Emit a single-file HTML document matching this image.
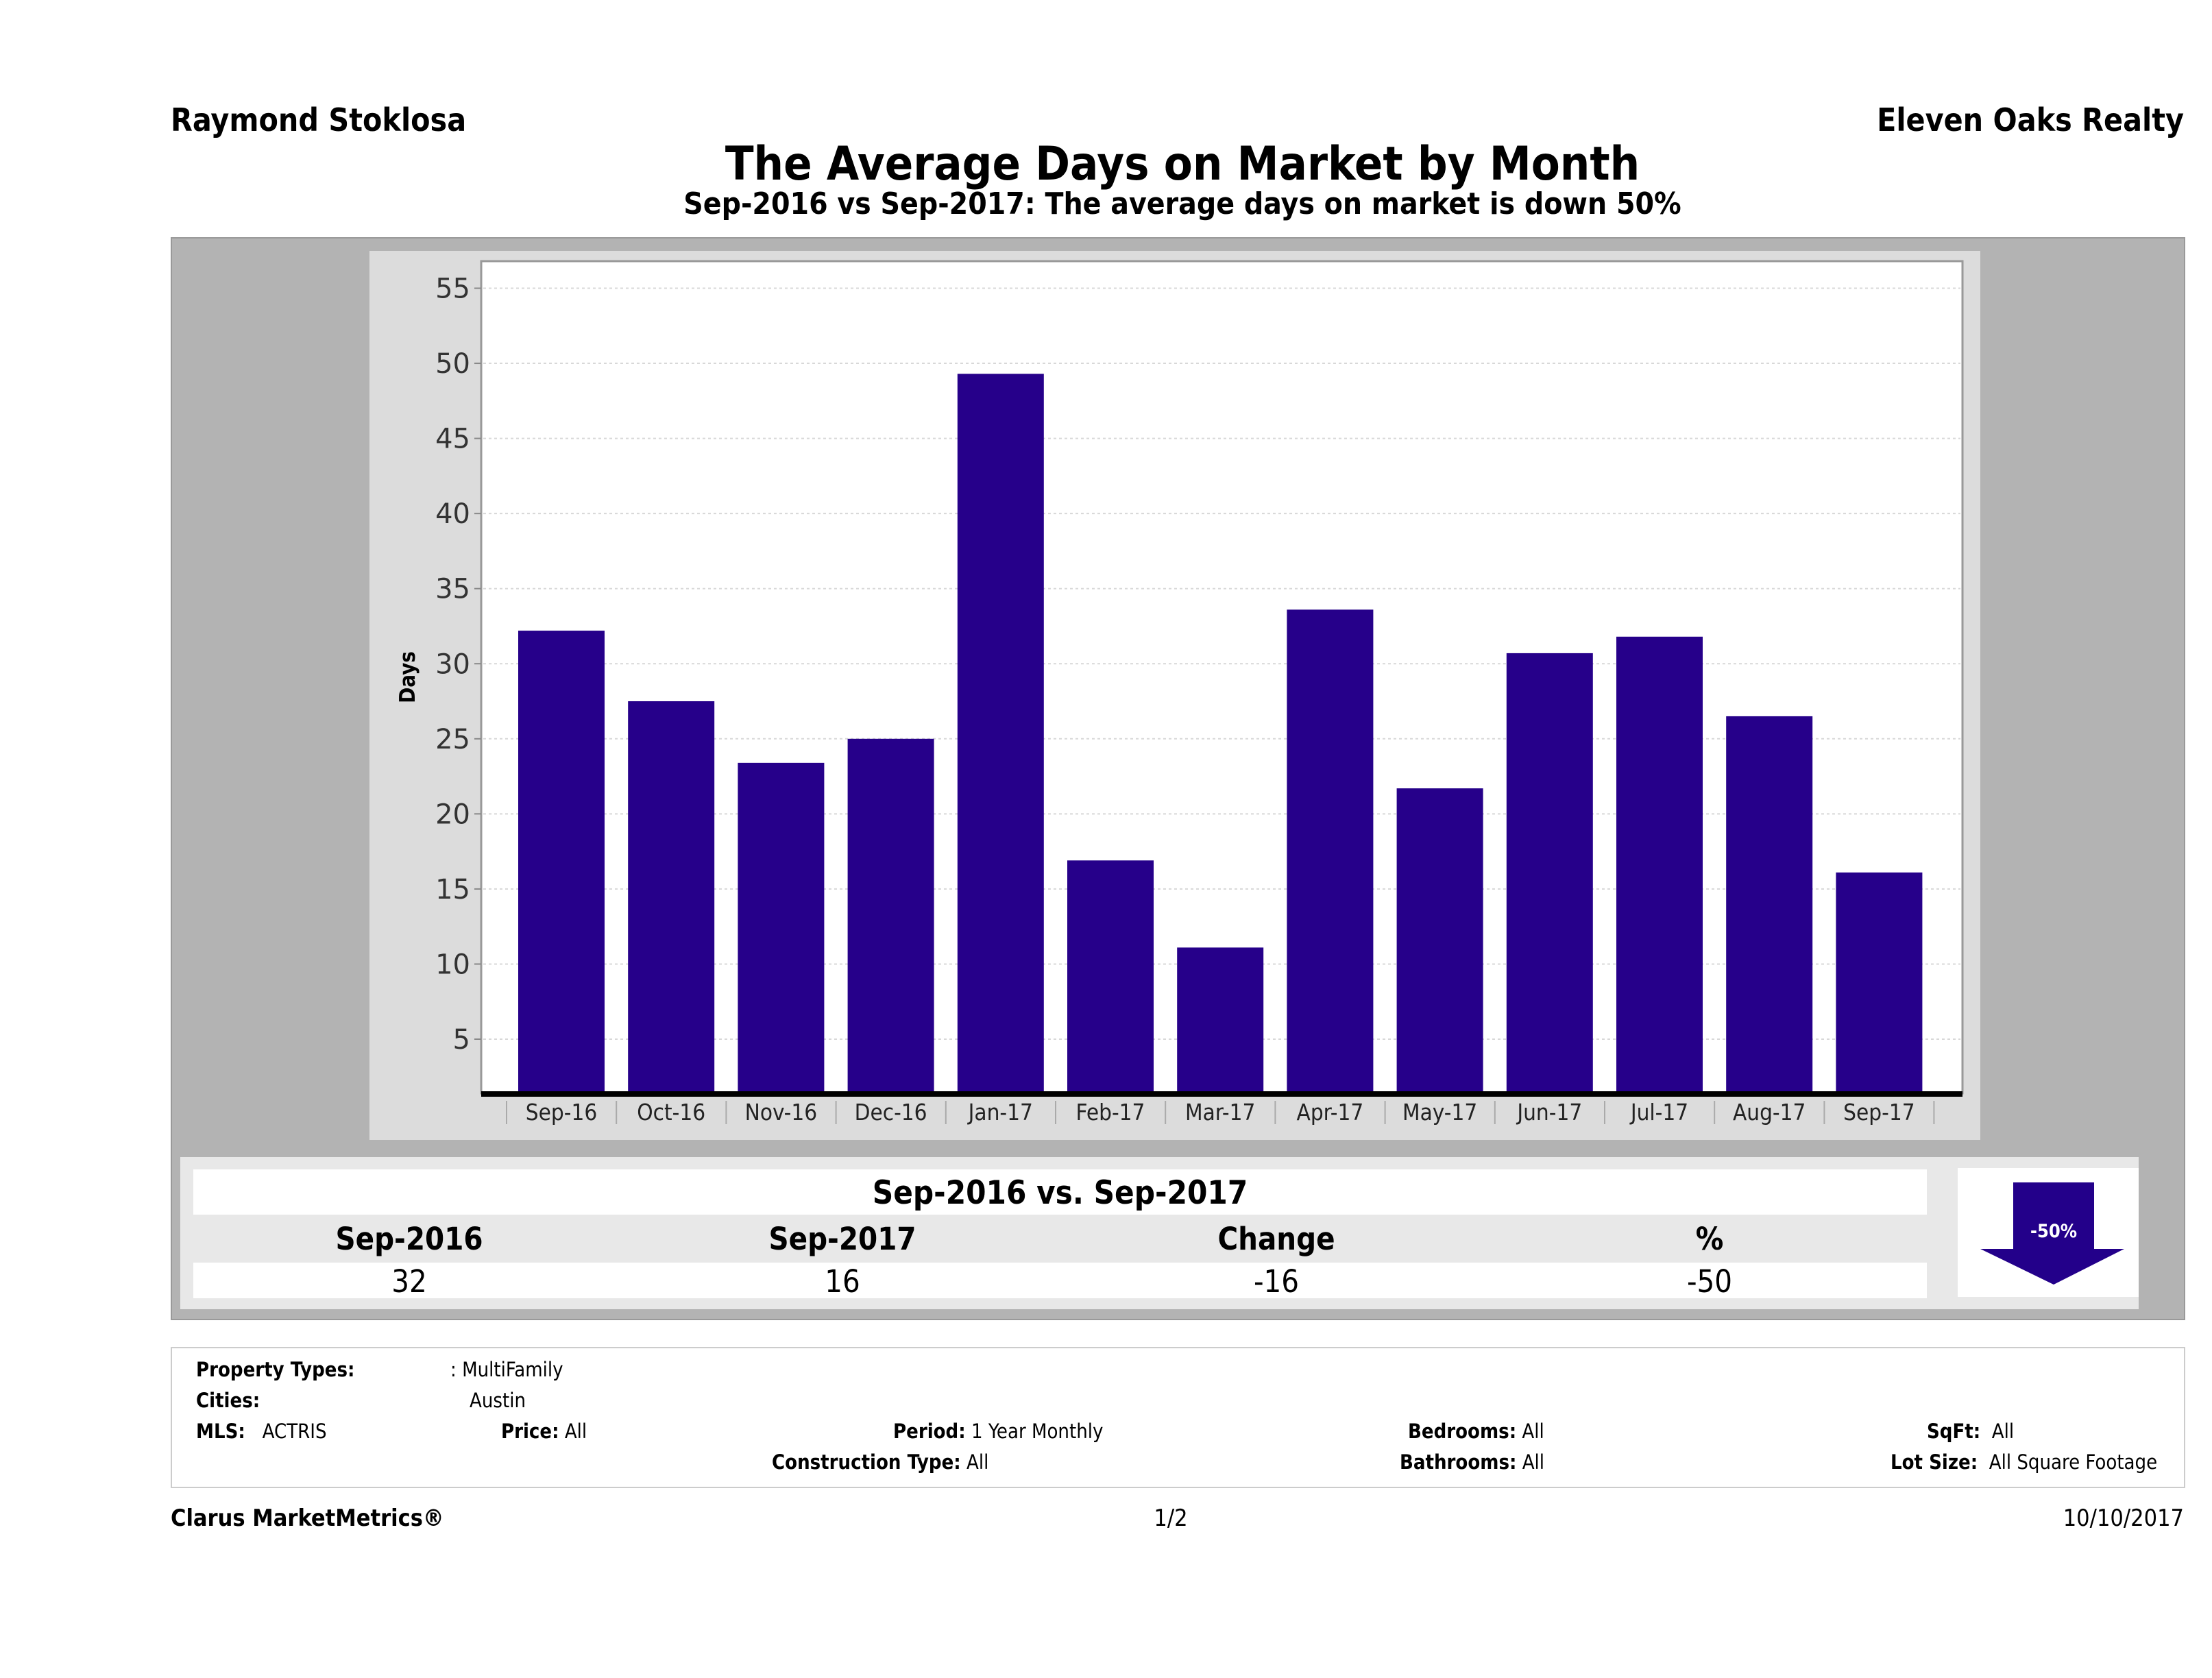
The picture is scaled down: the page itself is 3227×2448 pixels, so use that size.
<!DOCTYPE html>
<html><head><meta charset="utf-8">
<style>
html,body{margin:0;padding:0;background:#fff;}
body{width:3227px;height:2448px;position:relative;overflow:hidden;font-family:"DejaVu Sans Condensed","Liberation Sans Narrow","DejaVu Sans",sans-serif;color:#000;}
.a{position:absolute;white-space:nowrap;}
.b{font-weight:bold;}
.ft{font-size:29px;line-height:29px;}
</style></head>
<body>
<div class="a b" style="left:249px;top:148px;font-size:46px;">Raymond Stoklosa</div>
<div class="a b" style="right:41px;top:148px;font-size:46px;">Eleven Oaks Realty</div>
<div class="a b" style="left:0;width:3450px;text-align:center;top:200px;font-size:68px;">The Average Days on Market by Month</div>
<div class="a b" style="left:0;width:3450px;text-align:center;top:272px;font-size:44px;">Sep-2016 vs Sep-2017: The average days on market is down 50%</div>

<div class="a" style="left:249px;top:346px;width:2935px;height:1576px;background:#b3b3b3;border:2px solid #999;"></div>

<svg class="a" style="left:0;top:0;" width="3227" height="2448" xmlns="http://www.w3.org/2000/svg">
<rect x="539" y="366" width="2350" height="1297" fill="#dcdcdc"/>
<rect x="702" y="381" width="2161" height="1214" fill="#fff" stroke="#999" stroke-width="3"/>
<g id="grid"></g><g id="bars"></g><g id="xlabels"></g><g id="ylabels"></g>
<line x1="702" y1="1596" x2="2863" y2="1596" stroke="#000" stroke-width="8"/>
<text x="0" y="0" transform="translate(605,988) rotate(-90)" text-anchor="middle" font-size="31" font-weight="bold" font-family="DejaVu Sans Condensed, DejaVu Sans, sans-serif">Days</text>
</svg>

<div class="a" style="left:263px;top:1688px;width:2857px;height:222px;background:#e8e8e8;"></div>
<div class="a" style="left:282px;top:1706px;width:2529px;height:66px;background:#fff;"></div>
<div class="a b" style="left:282px;width:2529px;text-align:center;top:1713px;font-size:47px;">Sep-2016 vs. Sep-2017</div>
<div class="a" style="left:282px;top:1842px;width:2529px;height:52px;background:#fff;"></div>
<div class="a b" style="left:397px;width:400px;text-align:center;top:1781px;font-size:45px;">Sep-2016</div>
<div class="a b" style="left:1029px;width:400px;text-align:center;top:1781px;font-size:45px;">Sep-2017</div>
<div class="a b" style="left:1662px;width:400px;text-align:center;top:1781px;font-size:45px;">Change</div>
<div class="a b" style="left:2294px;width:400px;text-align:center;top:1781px;font-size:45px;">%</div>
<div class="a" style="left:397px;width:400px;text-align:center;top:1843px;font-size:45px;">32</div>
<div class="a" style="left:1029px;width:400px;text-align:center;top:1843px;font-size:45px;">16</div>
<div class="a" style="left:1662px;width:400px;text-align:center;top:1843px;font-size:45px;">-16</div>
<div class="a" style="left:2294px;width:400px;text-align:center;top:1843px;font-size:45px;">-50</div>
<div class="a" style="left:2856px;top:1704px;width:264px;height:188px;background:#fff;"></div>
<svg class="a" style="left:2856px;top:1704px;" width="264" height="188">
<polygon points="81,21 199,21 199,118 243,118 140,170 33,118 81,118" fill="#23008a"/>
<text x="140" y="101" text-anchor="middle" fill="#fff" font-size="27" font-weight="bold" font-family="DejaVu Sans Condensed, DejaVu Sans, sans-serif">-50%</text>
</svg>

<div class="a" style="left:249px;top:1965px;width:2935px;height:202px;border:2px solid #ccc;background:#fff;"></div>
<div class="a ft b" style="left:286px;top:1984px;">Property Types:</div>
<div class="a ft" style="left:657px;top:1984px;">: MultiFamily</div>
<div class="a ft b" style="left:286px;top:2029px;">Cities:</div>
<div class="a ft" style="left:685px;top:2029px;">Austin</div>
<div class="a ft" style="left:286px;top:2074px;"><b>MLS:</b>&nbsp;&nbsp; ACTRIS</div>
<div class="a ft" style="left:731px;top:2074px;"><b>Price:</b> All</div>
<div class="a ft" style="left:1303px;top:2074px;"><b>Period:</b> 1 Year Monthly</div>
<div class="a ft" style="left:1126px;top:2119px;"><b>Construction Type:</b> All</div>
<div class="a ft" style="left:2054px;top:2074px;"><b>Bedrooms:</b> All</div>
<div class="a ft" style="left:2042px;top:2119px;"><b>Bathrooms:</b> All</div>
<div class="a ft" style="left:2811px;top:2074px;"><b>SqFt:</b>&nbsp; All</div>
<div class="a ft" style="left:2758px;top:2119px;"><b>Lot Size:</b>&nbsp; All Square Footage</div>

<div class="a b" style="left:249px;top:2195px;font-size:34px;">Clarus MarketMetrics®</div>
<div class="a" style="left:1608px;width:200px;text-align:center;top:2195px;font-size:34px;">1/2</div>
<div class="a" style="right:41px;top:2195px;font-size:34px;">10/10/2017</div>

<script>
const categories = ["Sep-16","Oct-16","Nov-16","Dec-16","Jan-17","Feb-17","Mar-17","Apr-17","May-17","Jun-17","Jul-17","Aug-17","Sep-17"];
const values = [32.2,27.5,23.4,25.0,49.3,16.9,11.1,33.6,21.7,30.7,31.8,26.5,16.1];
const yTicks = [5,10,15,20,25,30,35,40,45,50,55];

const NS = "http://www.w3.org/2000/svg";
const yMin = 1.4;
function yScale(v){ return 1516 - (v - 5) * 21.91; }
function xCenter(i){ return 819 + i * 160.2; }
const barW = 126;
const base = yScale(yMin);

const grid = document.getElementById('grid');
const ylabels = document.getElementById('ylabels');
yTicks.forEach(t => {
  const y = yScale(t);
  const gl = document.createElementNS(NS,'line');
  
  
  gl.setAttribute('x1', 705); gl.setAttribute('x2', 2860);
  gl.setAttribute('y1', y); gl.setAttribute('y2', y);
  gl.setAttribute('stroke', '#d8d8d8'); gl.setAttribute('stroke-width', '2'); gl.setAttribute('stroke-dasharray', '4,4');
  grid.appendChild(gl);
  const tk = document.createElementNS(NS,'line');
  
  
  tk.setAttribute('x1', 692); tk.setAttribute('x2', 702);
  tk.setAttribute('y1', y); tk.setAttribute('y2', y);
  tk.setAttribute('stroke', '#888'); tk.setAttribute('stroke-width', '2');
  ylabels.appendChild(tk);
  const tx = document.createElementNS(NS,'text');
  
  
  tx.setAttribute('x', 686); tx.setAttribute('y', y + 14);
  tx.setAttribute('text-anchor', 'end');
  tx.setAttribute('font-size', '40');
  tx.setAttribute('fill', '#333');
  tx.setAttribute('font-family', 'DejaVu Sans, sans-serif');
  tx.textContent = String(t);
  ylabels.appendChild(tx);
});

const bars = document.getElementById('bars');
const xl = document.getElementById('xlabels');
categories.forEach((c, i) => {
  const cx = xCenter(i);
  const top = yScale(values[i]);
  const r = document.createElementNS(NS,'rect');
  
  
  r.setAttribute('x', cx - barW/2); r.setAttribute('width', barW);
  r.setAttribute('y', top); r.setAttribute('height', base - top);
  r.setAttribute('fill', '#26008a');
  bars.appendChild(r);
  const t = document.createElementNS(NS,'text');
  
  
  t.setAttribute('x', cx); t.setAttribute('y', 1634);
  t.setAttribute('text-anchor', 'middle');
  t.setAttribute('font-size', '33');
  t.setAttribute('fill', '#222');
  t.setAttribute('font-family', 'DejaVu Sans Condensed, DejaVu Sans, sans-serif');
  t.textContent = c;
  xl.appendChild(t);
  const s = document.createElementNS(NS,'line');
  
  
  const sx = cx - 80;
  s.setAttribute('x1', sx); s.setAttribute('x2', sx);
  s.setAttribute('y1', 1606); s.setAttribute('y2', 1640);
  s.setAttribute('stroke', '#aaa'); s.setAttribute('stroke-width', '2');
  xl.appendChild(s);
  if (i === categories.length - 1) {
    const s2 = document.createElementNS(NS,'line');
    
    
    s2.setAttribute('x1', cx + 80); s2.setAttribute('x2', cx + 80);
    s2.setAttribute('y1', 1606); s2.setAttribute('y2', 1640);
    s2.setAttribute('stroke', '#aaa'); s2.setAttribute('stroke-width', '2');
    xl.appendChild(s2);
  }
});
</script>
</body></html>
